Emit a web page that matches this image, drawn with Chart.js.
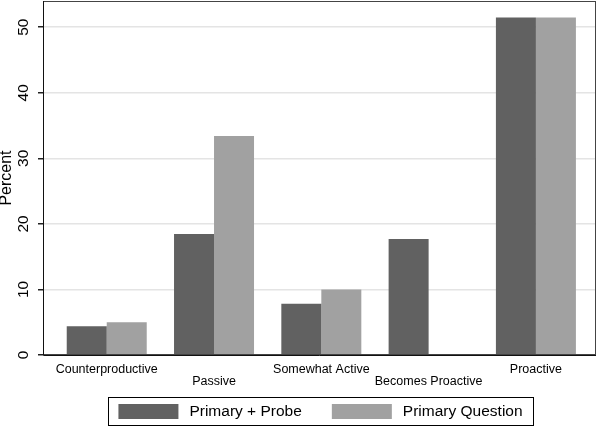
<!DOCTYPE html>
<html>
<head>
<meta charset="utf-8">
<script src="https://cdn.jsdelivr.net/npm/chart.js@4/dist/chart.umd.min.js"></script>
<style>
  html, body { margin: 0; padding: 0; background: #fff; }
  canvas { display: block; }
</style>
</head>
<body>
<canvas id="chart" width="601" height="426"></canvas>
<script>
// data
const categories = ['Counterproductive', 'Passive', 'Somewhat Active', 'Becomes Proactive', 'Proactive'];
const primaryProbe = [4.4, 18.45, 7.8, 17.7, 51.5];
const primaryQuestion = [5.0, 33.4, 10.0, 0, 51.5];
const yTicks = [0, 10, 20, 30, 40, 50];
const yTitle = 'Percent';

const FONT = '"Liberation Sans", Arial, sans-serif';
const DARK = '#616161';
const LIGHT = '#a1a1a1';

const toPoints = vals => vals.map((v, i) => ({ x: i, y: v }));

const stataFrame = {
  id: 'stataFrame',
  afterDraw: chart => {
    const ctx = chart.ctx;
    const a = chart.chartArea;
    const yAxis = chart.scales['y'];
    ctx.save();

    // plot region outline
    ctx.strokeStyle = '#444';
    ctx.lineWidth = 1;
    ctx.strokeRect(a.left + 0.5, a.top + 0.5, a.right - a.left - 1, a.bottom - a.top - 1);
    ctx.strokeStyle = '#111';
    ctx.beginPath();
    ctx.moveTo(a.left + 0.5, a.top);
    ctx.lineTo(a.left + 0.5, a.bottom + 0.5);
    ctx.lineTo(a.right, a.bottom + 0.5);
    ctx.stroke();

    // rotated y tick labels
    ctx.fillStyle = '#000';
    ctx.font = '15.5px ' + FONT;
    ctx.textAlign = 'center';
    ctx.textBaseline = 'middle';
    yTicks.forEach(v => {
      const py = yAxis.getPixelForValue(v);
      ctx.save();
      ctx.translate(24, py);
      ctx.rotate(-Math.PI / 2);
      ctx.fillText(String(v), 0, 0);
      ctx.restore();
    });

    // y title
    ctx.font = '16px ' + FONT;
    ctx.save();
    ctx.translate(7, (a.top + a.bottom) / 2);
    ctx.rotate(-Math.PI / 2);
    ctx.fillText(yTitle, 0, 0);
    ctx.restore();

    // legend box
    const sets = chart.data.datasets;
    ctx.font = '15.5px ' + FONT;
    const sw = 60, sh = 15, gap = 11, itemGap = 30;
    const widths = sets.map(d => sw + gap + ctx.measureText(d.label).width);
    const total = widths.reduce((s, w) => s + w, 0) + itemGap * (sets.length - 1);
    const boxL = 108, boxR = 533, boxT = 397, boxB = 425;
    ctx.strokeStyle = '#000';
    ctx.lineWidth = 1;
    ctx.strokeRect(boxL + 0.5, boxT + 0.5, boxR - boxL, boxB - boxT);
    let x = (boxL + boxR) / 2 - total / 2;
    const cy = (boxT + boxB) / 2 + 0.5;
    ctx.textAlign = 'left';
    sets.forEach((d, i) => {
      ctx.fillStyle = d.backgroundColor;
      ctx.fillRect(x, cy - sh / 2, sw, sh);
      ctx.fillStyle = '#000';
      ctx.fillText(d.label, x + sw + gap, cy);
      x += widths[i] + itemGap;
    });

    ctx.restore();
  }
};

new Chart(document.getElementById('chart'), {
  type: 'bar',
  plugins: [stataFrame],
  data: {
    datasets: [{
      label: 'Primary + Probe',
      data: toPoints(primaryProbe),
      backgroundColor: DARK,
      borderWidth: 0,
      categoryPercentage: 0.7456,
      barPercentage: 1
    }, {
      label: 'Primary Question',
      data: toPoints(primaryQuestion),
      backgroundColor: LIGHT,
      borderWidth: 0,
      categoryPercentage: 0.7456,
      barPercentage: 1
    }]
  },
  options: {
    responsive: false,
    animation: false,
    devicePixelRatio: 1,
    layout: { padding: { top: 1, right: 5, left: 0, bottom: 0 } },
    plugins: {
      legend: { display: false },
      tooltip: { enabled: false }
    },
    scales: {
      x: {
        type: 'linear',
        min: -0.594,
        max: 4.56,
        offset: false,
        grid: { display: false, drawTicks: false },
        border: { display: false },
        afterFit: scale => { scale.height = 71; },
        ticks: {
          stepSize: 1,
          includeBounds: false,
          autoSkip: false,
          maxRotation: 0,
          minRotation: 0,
          padding: 8,
          color: '#000',
          font: { family: FONT, size: 12.5, lineHeight: 1.0 },
          callback: function (value) {
            const label = categories[value];
            if (label === undefined) return '';
            return value % 2 === 1 ? ['', label] : label;
          }
        }
      },
      y: {
        min: 0,
        max: 54,
        afterFit: scale => { scale.width = 43; },
        border: { display: false },
        grid: {
          color: '#e4e4e4',
          lineWidth: 1.5,
          drawTicks: true,
          tickLength: 5,
          tickColor: '#222'
        },
        ticks: {
          display: false,
          stepSize: 10,
          includeBounds: false
        }
      }
    }
  }
});
</script>
</body>
</html>
